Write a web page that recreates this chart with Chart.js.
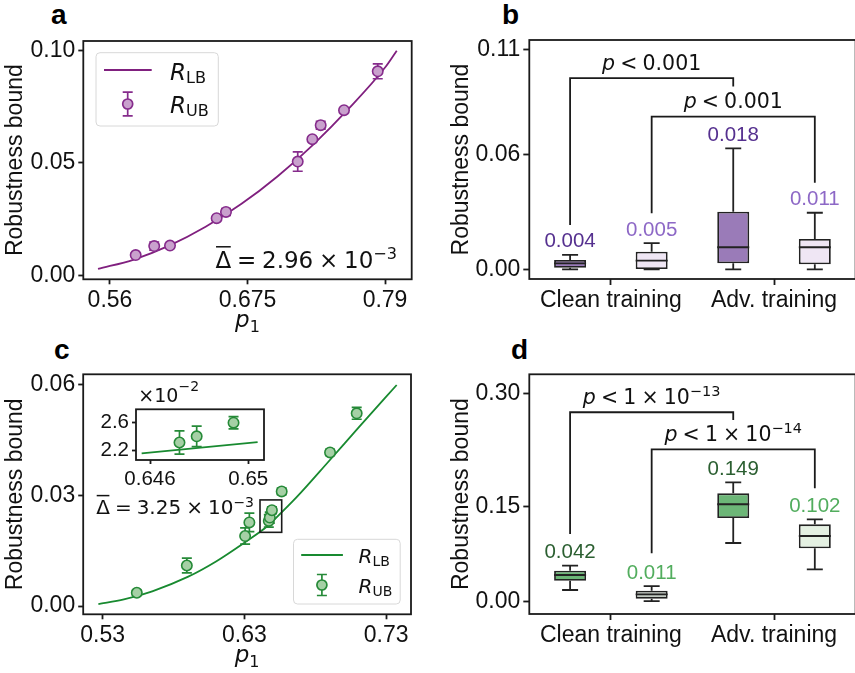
<!DOCTYPE html>
<html><head><meta charset="utf-8">
<script src="https://cdn.jsdelivr.net/npm/chart.js@4.4.1/dist/chart.umd.min.js"></script>
<style>
html,body{margin:0;padding:0;background:#fff;}
body{position:relative;width:855px;height:673px;overflow:hidden;}
canvas{position:absolute;}
.pl{position:absolute;font:bold 28px "Liberation Sans",Arial,sans-serif;line-height:28px;color:#000;}
</style></head>
<body>
<div class="pl" style="left:51px;top:1px">a</div>
<div class="pl" style="left:502px;top:1px">b</div>
<div class="pl" style="left:54px;top:336px">c</div>
<div class="pl" style="left:511px;top:336px">d</div>
<canvas id="ca" width="430" height="345" style="left:0;top:0"></canvas>
<canvas id="cc" width="430" height="343" style="left:0;top:330px"></canvas>
<canvas id="cb" width="430" height="320" style="left:430px;top:0"></canvas>
<canvas id="cd" width="430" height="343" style="left:430px;top:330px"></canvas>
<canvas id="ci" width="240" height="130" style="left:40px;top:370px"></canvas>
<script>
// ---------------- DATA ----------------
// Panel a
const aCurveP = [0.550, 0.580, 0.610, 0.640, 0.670, 0.700, 0.730, 0.760, 0.790, 0.7998];
const aCurveR = [0.0028, 0.0070, 0.0133, 0.0216, 0.0318, 0.0440, 0.0582, 0.0744, 0.0925, 0.1000];
const aPointsP = [0.5815, 0.5970, 0.6102, 0.6492, 0.6570, 0.7170, 0.7292, 0.7362, 0.7557, 0.7839];
const aPointsR = [0.0090, 0.0130, 0.0132, 0.0254, 0.0282, 0.0506, 0.0606, 0.0668, 0.0735, 0.0908];
const aPointsErr = [0.0007, 0.0018, 0.0006, 0.0006, 0.0015, 0.0043, 0.0008, 0.0017, 0.0006, 0.0033];
const aXTicks = [0.56, 0.675, 0.79];
const aXLabels = ['0.56', '0.675', '0.79'];
const aYTicks = [0, 0.05, 0.10];
const aYLabels = ['0.00', '0.05', '0.10'];

// Panel c
const cCurveP = [0.527, 0.545, 0.565, 0.590, 0.610, 0.630, 0.6457, 0.6504, 0.667, 0.690, 0.710, 0.7374];
const cCurveR = [0.0005, 0.0018, 0.0040, 0.0079, 0.0121, 0.0172, 0.0215, 0.0232, 0.0296, 0.0395, 0.0482, 0.0600];
const cPointsP = [0.5541, 0.5894, 0.6305, 0.6335, 0.6472, 0.6479, 0.6494, 0.6563, 0.6904, 0.7092];
const cPointsR = [0.0036, 0.0110, 0.0190, 0.0227, 0.0231, 0.0240, 0.0260, 0.0311, 0.0417, 0.0523];
const cPointsErr = [0.0007, 0.0020, 0.0022, 0.0025, 0.0017, 0.0015, 0.0009, 0.0009, 0.0008, 0.0016];
const cXTicks = [0.53, 0.63, 0.73];
const cXLabels = ['0.53', '0.63', '0.73'];
const cYTicks = [0, 0.03, 0.06];
const cYLabels = ['0.00', '0.03', '0.06'];
// inset of c
const insetCurveP = [0.64566, 0.65038];
const insetCurveR = [0.02152, 0.02317];
const insetXTicks = [0.646, 0.65];
const insetXLabels = ['0.646', '0.65'];
const insetYTicks = [0.022, 0.026];
const insetYLabels = ['2.2', '2.6'];

// Panel b
const bCategories = ['Clean training', 'Adv. training'];
const bYTicks = [0, 0.06, 0.1144];
const bYLabels = ['0.00', '0.06', '0.11'];
const bDarkLow = [0.0000, 0.0000];
const bDarkQ1 = [0.0008, 0.0031];
const bDarkMed = [0.0031, 0.0115];
const bDarkQ3 = [0.0049, 0.0300];
const bDarkHigh = [0.0075, 0.0631];
const bDarkMean = [0.004, 0.018];
const bLightLow = [0.0000, 0.0000];
const bLightQ1 = [0.0001, 0.0026];
const bLightMed = [0.0045, 0.0115];
const bLightQ3 = [0.0092, 0.0158];
const bLightHigh = [0.0136, 0.0295];
const bLightMean = [0.005, 0.011];

// Panel d
const dCategories = ['Clean training', 'Adv. training'];
const dYTicks = [0, 0.15, 0.3286];
const dYLabels = ['0.00', '0.15', '0.30'];
const dDarkLow = [0.0177, 0.0920];
const dDarkQ1 = [0.0324, 0.1315];
const dDarkMed = [0.0414, 0.1532];
const dDarkQ3 = [0.0482, 0.1705];
const dDarkHigh = [0.0561, 0.1879];
const dDarkMean = [0.042, 0.149];
const dLightLow = [0.0000, 0.0504];
const dLightQ1 = [0.0040, 0.0836];
const dLightMed = [0.0109, 0.1031];
const dLightQ3 = [0.0166, 0.1215];
const dLightHigh = [0.0240, 0.1294];
const dLightMean = [0.011, 0.102];

// ---------------- STYLE / HELPERS ----------------
const FONT = '"Liberation Sans", Arial, Helvetica, sans-serif';
const MFONT = '"DejaVu Sans", sans-serif';
const INK = '#111';
const EDGE = '#1a1a1a';
const LW = 1.8;
const SP = '\u2005';

function mf(s, i) { return (i ? 'italic ' : '') + s + 'px ' + MFONT; }
function rich(ctx, parts, x, y, align, color) {
  ctx.save();
  ctx.textBaseline = 'alphabetic'; ctx.textAlign = 'left';
  const ws = parts.map(p => { ctx.font = mf(p.s, p.i); return ctx.measureText(p.t).width; });
  const tot = ws.reduce((a, b) => a + b, 0);
  let cx = align === 'center' ? x - tot / 2 : align === 'right' ? x - tot : x;
  const xs = [];
  parts.forEach((p, k) => {
    ctx.font = mf(p.s, p.i); ctx.fillStyle = color;
    ctx.fillText(p.t, cx, y + (p.dy || 0));
    xs.push([cx, ws[k]]); cx += ws[k];
  });
  ctx.restore();
  return xs;
}

const framePlugin = {
  id: 'frame',
  afterDatasetsDraw(chart) {
    const { ctx, chartArea: a } = chart;
    ctx.save(); ctx.strokeStyle = EDGE; ctx.lineWidth = LW;
    ctx.strokeRect(a.left, a.top, a.right - a.left, a.bottom - a.top);
    ctx.restore();
  }
};
const whiteBg = {
  id: 'whitebg',
  beforeDatasetsDraw(chart) {
    const { ctx, chartArea: a } = chart;
    ctx.save(); ctx.fillStyle = '#fff'; ctx.fillRect(a.left, a.top, a.right - a.left, a.bottom - a.top); ctx.restore();
  }
};
function p1Title() {
  return { id: 'p1', afterDraw(chart) {
    const { ctx, chartArea: a } = chart;
    rich(ctx, [{ t: 'p', s: 23, i: 1 }, { t: '1', s: 16, dy: 5 }], (a.left + a.right) / 2, a.bottom + 47.5, 'center', INK);
  } };
}
function errPlugin(P, R, E, color, dsIndex, cap) {
  return { id: 'err', beforeDatasetDraw(chart, args) {
    if (args.index !== dsIndex) return;
    const { ctx, chartArea: a } = chart; const xs = chart.scales.x, ys = chart.scales.y;
    ctx.save();
    ctx.beginPath(); ctx.rect(a.left, a.top, a.right - a.left, a.bottom - a.top); ctx.clip();
    ctx.strokeStyle = color; ctx.lineWidth = 1.7;
    ctx.beginPath();
    P.forEach((p, i) => {
      const x = xs.getPixelForValue(p), y1 = ys.getPixelForValue(R[i] - E[i]), y2 = ys.getPixelForValue(R[i] + E[i]);
      ctx.moveTo(x, y1); ctx.lineTo(x, y2);
      ctx.moveTo(x - cap, y1); ctx.lineTo(x + cap, y1);
      ctx.moveTo(x - cap, y2); ctx.lineTo(x + cap, y2);
    });
    ctx.stroke(); ctx.restore();
  } };
}
function legendPlugin(o) {
  return { id: 'leg', afterDraw(chart) {
    const { ctx, chartArea: a } = chart;
    const bx = a.left + o.bx, by = a.top + o.by;
    ctx.save();
    ctx.beginPath(); ctx.roundRect(bx, by, o.bw, o.bh, 4);
    ctx.fillStyle = 'rgba(255,255,255,0.85)'; ctx.fill();
    ctx.strokeStyle = '#d8d8d8'; ctx.lineWidth = 1; ctx.stroke();
    ctx.strokeStyle = o.line; ctx.lineWidth = 1.8;
    ctx.beginPath(); ctx.moveTo(a.left + o.lx1, a.top + o.ly); ctx.lineTo(a.left + o.lx2, a.top + o.ly); ctx.stroke();
    const mx = a.left + o.mx, my = a.top + o.my;
    ctx.strokeStyle = o.edge; ctx.lineWidth = 1.7;
    ctx.beginPath();
    ctx.moveTo(mx, my - o.e); ctx.lineTo(mx, my + o.e);
    ctx.moveTo(mx - 5, my - o.e); ctx.lineTo(mx + 5, my - o.e);
    ctx.moveTo(mx - 5, my + o.e); ctx.lineTo(mx + 5, my + o.e);
    ctx.stroke();
    ctx.beginPath(); ctx.arc(mx, my, 5, 0, Math.PI * 2); ctx.fillStyle = o.fill; ctx.fill(); ctx.stroke();
    ctx.restore();
    rich(ctx, [{ t: 'R', s: o.fs, i: 1 }, { t: 'LB', s: o.fs * 0.7, dy: 3 }], a.left + o.tx, a.top + o.t1, 'left', INK);
    rich(ctx, [{ t: 'R', s: o.fs, i: 1 }, { t: 'UB', s: o.fs * 0.7, dy: 3 }], a.left + o.tx, a.top + o.t2, 'left', INK);
  } };
}
function deltaPlugin(text, fs, posFn) {
  return { id: 'delta', afterDraw(chart) {
    const { ctx, chartArea: a } = chart;
    const pos = posFn(a);
    const xs = rich(ctx, [{ t: 'Δ', s: fs }, { t: SP + '=' + SP + text + SP + '×' + SP + '10', s: fs },
      { t: '−3', s: fs * 0.7, dy: -fs * 0.39 }], pos.x, pos.y, pos.align, INK);
    ctx.save(); ctx.strokeStyle = INK; ctx.lineWidth = 1.5;
    const yb = pos.y - fs * 0.935;
    ctx.beginPath(); ctx.moveTo(xs[0][0] + 0.5, yb); ctx.lineTo(xs[0][0] + xs[0][1] - 0.5, yb); ctx.stroke();
    ctx.restore();
  } };
}
function linAxis(min, max, vals, labels, fs, tl, extra) {
  return Object.assign({
    type: 'linear', min: min, max: max,
    afterBuildTicks: s => { s.ticks = vals.map(v => ({ value: v })); },
    ticks: { font: { family: FONT, size: fs }, color: INK, padding: 3, autoSkip: false, maxRotation: 0,
      callback: (v, i) => labels[i] },
    grid: { drawOnChartArea: false, tickLength: tl, tickWidth: LW, tickColor: EDGE },
    border: { display: false }
  }, extra);
}
const yTitle = { display: true, text: 'Robustness bound', font: { family: FONT, size: 23 }, color: INK, padding: { top: 2, bottom: 0 } };

// ---------------- PANEL a ----------------
const A_LINE = '#80207f', A_EDGE = '#862c8c', A_FILL = '#c9a1cd';
new Chart(document.getElementById('ca'), {
  type: 'scatter',
  data: { datasets: [
    { type: 'line', data: aCurveP.map((p, i) => ({ x: p, y: aCurveR[i] })), borderColor: A_LINE, borderWidth: 1.8,
      pointRadius: 0, cubicInterpolationMode: 'monotone', fill: false, order: 2 },
    { type: 'scatter', data: aPointsP.map((p, i) => ({ x: p, y: aPointsR[i] })), backgroundColor: A_FILL,
      borderColor: A_EDGE, borderWidth: 1.6, pointRadius: 5.2, order: 1 }
  ] },
  options: {
    responsive: false, animation: false, events: [],
    layout: { padding: { top: 41, right: 18.3, left: 0, bottom: 0 } },
    plugins: { legend: { display: false }, tooltip: { enabled: false } },
    scales: {
      x: linAxis(0.5377, 0.8123, aXTicks, aXLabels, 23, 5, { afterFit: s => { s.height = 65.7; } }),
      y: linAxis(-0.0018, 0.1043, aYTicks, aYLabels, 23, 5, { afterFit: s => { s.width = 83.3; }, title: yTitle })
    }
  },
  plugins: [framePlugin, errPlugin(aPointsP, aPointsR, aPointsErr, A_EDGE, 1, 5), p1Title(),
    legendPlugin({ bx: 12.7, by: 11.7, bw: 122.3, bh: 73.3, lx1: 20.7, lx2: 68.4, ly: 29, mx: 44.4, my: 63, e: 11.8,
      tx: 86.7, t1: 39, t2: 72.3, fs: 23, line: A_LINE, edge: A_EDGE, fill: A_FILL }),
    deltaPlugin('2.96', 23, a => ({ x: a.right - 14.7, y: a.bottom - 11, align: 'right' }))]
});

// ---------------- PANEL c ----------------
const C_LINE = '#188a30', C_EDGE = '#268a38', C_FILL = '#a5d0a5';
const rectPlugin = { id: 'rect', afterDatasetsDraw(chart) {
  const { ctx } = chart; const xs = chart.scales.x, ys = chart.scales.y;
  const x1 = xs.getPixelForValue(0.6410), x2 = xs.getPixelForValue(0.6563);
  const y1 = ys.getPixelForValue(0.0288), y2 = ys.getPixelForValue(0.0200);
  ctx.save(); ctx.strokeStyle = EDGE; ctx.lineWidth = 1.6; ctx.strokeRect(x1, y1, x2 - x1, y2 - y1); ctx.restore();
} };
new Chart(document.getElementById('cc'), {
  type: 'scatter',
  data: { datasets: [
    { type: 'line', data: cCurveP.map((p, i) => ({ x: p, y: cCurveR[i] })), borderColor: C_LINE, borderWidth: 1.8,
      pointRadius: 0, cubicInterpolationMode: 'monotone', fill: false, order: 2 },
    { type: 'scatter', data: cPointsP.map((p, i) => ({ x: p, y: cPointsR[i] })), backgroundColor: C_FILL,
      borderColor: C_EDGE, borderWidth: 1.6, pointRadius: 5.2, order: 1 }
  ] },
  options: {
    responsive: false, animation: false, events: [],
    layout: { padding: { top: 44.3, right: 19, left: 0, bottom: 0 } },
    plugins: { legend: { display: false }, tooltip: { enabled: false } },
    scales: {
      x: linAxis(0.5163, 0.7475, cXTicks, cXLabels, 23, 5, { afterFit: s => { s.height = 58.7; } }),
      y: linAxis(-0.00225, 0.0629, cYTicks, cYLabels, 23, 5, { afterFit: s => { s.width = 83.2; }, title: yTitle })
    }
  },
  plugins: [framePlugin, errPlugin(cPointsP, cPointsR, cPointsErr, C_EDGE, 1, 5), p1Title(), rectPlugin,
    legendPlugin({ bx: 210.3, by: 165, bw: 106.7, bh: 64.7, lx1: 218, lx2: 259.7, ly: 180.7, mx: 238.7, my: 210.7, e: 10.5,
      tx: 275.3, t1: 189, t2: 218.4, fs: 20, line: C_LINE, edge: C_EDGE, fill: C_FILL }),
    deltaPlugin('3.25', 20, a => ({ x: a.left + 13, y: a.top + 140, align: 'left' }))]
});

// ---------------- INSET of c ----------------
const expPlugin = { id: 'exp', afterDraw(chart) {
  const { ctx, chartArea: a } = chart;
  rich(ctx, [{ t: '×10', s: 19 }, { t: '−2', s: 14, dy: -11 }], a.left + 2.3, a.top - 7.6, 'left', INK);
} };
new Chart(document.getElementById('ci'), {
  type: 'scatter',
  data: { datasets: [
    { type: 'line', data: insetCurveP.map((p, i) => ({ x: p, y: insetCurveR[i] })), borderColor: C_LINE, borderWidth: 1.8,
      pointRadius: 0, fill: false, order: 2 },
    { type: 'scatter', data: cPointsP.map((p, i) => ({ x: p, y: cPointsR[i] })), backgroundColor: C_FILL,
      borderColor: C_EDGE, borderWidth: 1.6, pointRadius: 5.2, order: 1 }
  ] },
  options: {
    responsive: false, animation: false, events: [],
    layout: { padding: { top: 39.3, right: 16, left: 0, bottom: 0 } },
    plugins: { legend: { display: false }, tooltip: { enabled: false } },
    scales: {
      x: linAxis(0.64543, 0.65064, insetXTicks, insetXLabels, 20.5, 4, { afterFit: s => { s.height = 40; } }),
      y: linAxis(0.02054, 0.02796, insetYTicks, insetYLabels, 20.5, 4, { afterFit: s => { s.width = 96; } })
    }
  },
  plugins: [whiteBg, framePlugin, errPlugin(cPointsP, cPointsR, cPointsErr, C_EDGE, 1, 5), expPlugin]
});

// ---------------- BOX PANELS ----------------
function boxPlugin(sets, brackets) {
  return { id: 'box', afterDatasetsDraw(chart) {
    const ctx = chart.ctx, ys = chart.scales.y;
    ctx.save(); ctx.strokeStyle = '#222'; ctx.lineWidth = LW;
    sets.forEach((st, di) => {
      chart.getDatasetMeta(di).data.forEach((el, j) => {
        const x = el.x, hw = el.width / 2, cw = el.width / 4;
        const yLo = ys.getPixelForValue(st.low[j]), yQ1 = ys.getPixelForValue(st.q1[j]);
        const yMed = ys.getPixelForValue(st.med[j]), yQ3 = ys.getPixelForValue(st.q3[j]), yHi = ys.getPixelForValue(st.high[j]);
        ctx.beginPath();
        ctx.moveTo(x, yQ3); ctx.lineTo(x, yHi); ctx.moveTo(x - cw, yHi); ctx.lineTo(x + cw, yHi);
        ctx.moveTo(x, yQ1); ctx.lineTo(x, yLo); ctx.moveTo(x - cw, yLo); ctx.lineTo(x + cw, yLo);
        ctx.moveTo(x - hw, yMed); ctx.lineTo(x + hw, yMed);
        ctx.stroke();
        ctx.font = '20.5px ' + FONT; ctx.fillStyle = st.textColor; ctx.textAlign = 'center'; ctx.textBaseline = 'alphabetic';
        ctx.fillText(st.mean[j].toFixed(3), x, yHi - 7.5);
      });
    });
    ctx.strokeStyle = EDGE;
    brackets.forEach(b => {
      const e0 = chart.getDatasetMeta(b.from[0]).data[b.from[1]], e1 = chart.getDatasetMeta(b.to[0]).data[b.to[1]];
      const yT = ys.getPixelForValue(b.top);
      ctx.beginPath();
      ctx.moveTo(e0.x, ys.getPixelForValue(b.y0)); ctx.lineTo(e0.x, yT); ctx.lineTo(e1.x, yT); ctx.lineTo(e1.x, ys.getPixelForValue(b.y1));
      ctx.stroke();
      rich(ctx, b.text, (e0.x + e1.x) / 2, yT - 8.5, 'center', INK);
    });
    ctx.restore();
  } };
}
function boxChart(id, cats, dark, light, yMin, yMax, yT, yL, xH, padTop, brackets) {
  new Chart(document.getElementById(id), {
    type: 'bar',
    data: { labels: cats, datasets: [
      { data: dark.q1.map((q, i) => [q, dark.q3[i]]), backgroundColor: dark.fill, borderColor: '#222', borderWidth: LW, borderSkipped: false },
      { data: light.q1.map((q, i) => [q, light.q3[i]]), backgroundColor: light.fill, borderColor: '#222', borderWidth: LW, borderSkipped: false }
    ] },
    options: {
      responsive: false, animation: false, events: [],
      categoryPercentage: 1.0, barPercentage: 0.392,
      layout: { padding: { top: padTop, right: 4.4, left: 0, bottom: 0 } },
      plugins: { legend: { display: false }, tooltip: { enabled: false } },
      scales: {
        x: { type: 'category', afterFit: s => { s.height = xH; },
          ticks: { font: { family: FONT, size: 23 }, color: INK, padding: 2, maxRotation: 0, autoSkip: false },
          grid: { offset: false, drawOnChartArea: false, tickLength: 6, tickWidth: LW, tickColor: EDGE },
          border: { display: false } },
        y: linAxis(yMin, yMax, yT, yL, 23, 6, { afterFit: s => { s.width = 99.3; },
          title: Object.assign({}, yTitle, { padding: { top: 17.4, bottom: 0 } }) })
      }
    },
    plugins: [framePlugin, boxPlugin([dark, light], brackets)]
  });
}
const pSmall = [{ t: 'p', s: 20.5, i: 1 }, { t: SP + '<' + SP + '0.001', s: 20.5 }];
boxChart('cb', bCategories,
  { low: bDarkLow, q1: bDarkQ1, med: bDarkMed, q3: bDarkQ3, high: bDarkHigh, mean: bDarkMean, fill: '#9a7bb8', textColor: '#55308f' },
  { low: bLightLow, q1: bLightQ1, med: bLightMed, q3: bLightQ3, high: bLightHigh, mean: bLightMean, fill: '#efe6f4', textColor: '#8d68c6' },
  -0.00506, 0.1196, bYTicks, bYLabels, 41, 40,
  [ { from: [0, 0], to: [0, 1], y0: 0.0231, top: 0.0997, y1: 0.0953, text: pSmall },
    { from: [1, 0], to: [1, 1], y0: 0.0292, top: 0.0796, y1: 0.0452, text: pSmall } ]);
boxChart('cd', dCategories,
  { low: dDarkLow, q1: dDarkQ1, med: dDarkMed, q3: dDarkQ3, high: dDarkHigh, mean: dDarkMean, fill: '#6cb677', textColor: '#2b5f31' },
  { low: dLightLow, q1: dLightQ1, med: dLightMed, q3: dLightQ3, high: dLightHigh, mean: dLightMean, fill: ['#c3cbc3', '#e4f0e2'], textColor: '#52ad5e' },
  -0.0202, 0.3586, dYTicks, dYLabels, 59, 44.3,
  [ { from: [0, 0], to: [0, 1], y0: 0.1062, top: 0.2986, y1: 0.2864,
      text: [{ t: 'p', s: 20.5, i: 1 }, { t: SP + '<' + SP + '1' + SP + '×' + SP + '10', s: 20.5 }, { t: '−13', s: 14.5, dy: -8 }] },
    { from: [1, 0], to: [1, 1], y0: 0.0757, top: 0.2401, y1: 0.1784,
      text: [{ t: 'p', s: 20.5, i: 1 }, { t: SP + '<' + SP + '1' + SP + '×' + SP + '10', s: 20.5 }, { t: '−14', s: 14.5, dy: -8 }] } ]);
</script>
</body></html>
